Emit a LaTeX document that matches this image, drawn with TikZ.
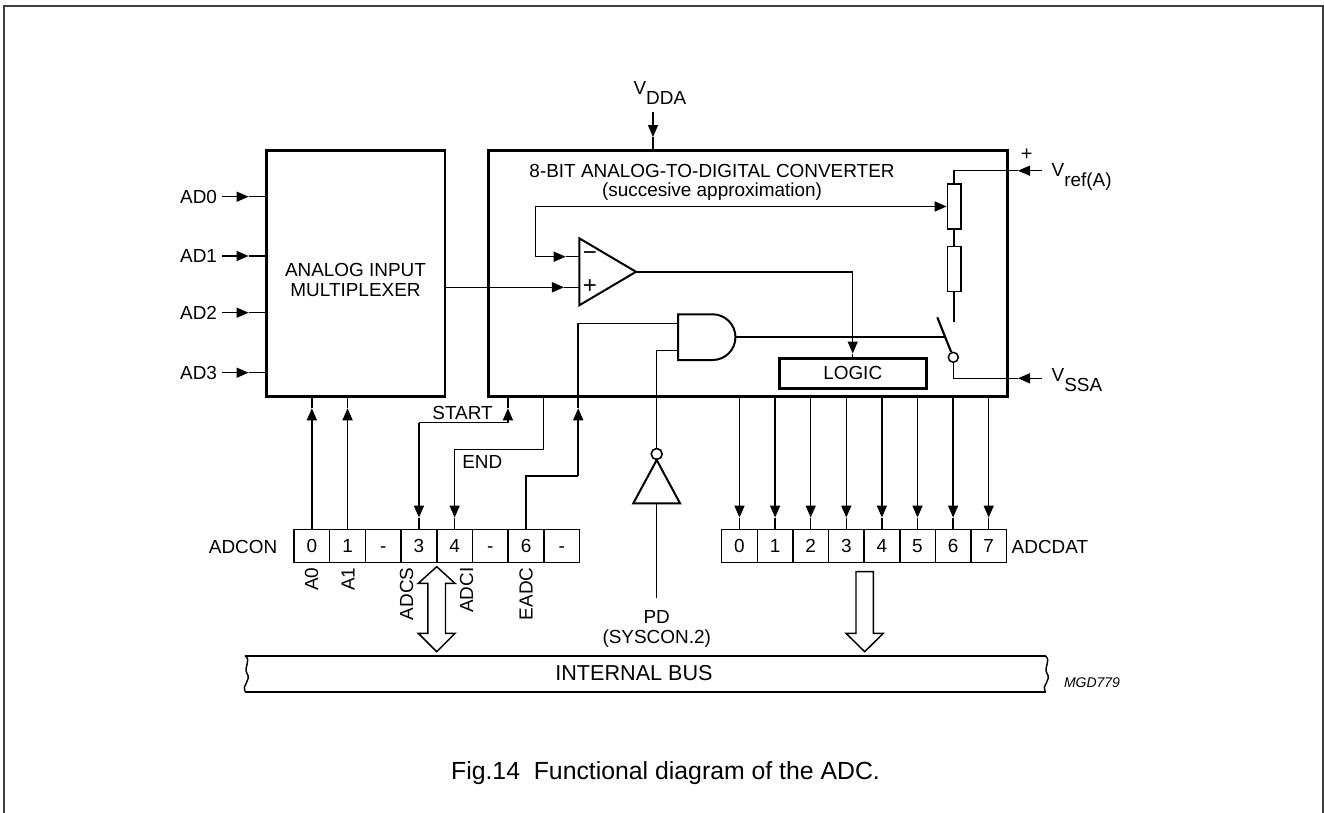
\documentclass[tikz,border=0pt]{standalone}
\usepackage{fontspec}
\setmainfont{Liberation Sans}
\usetikzlibrary{arrows.meta,calc}
\newcommand\sigline[3][8.25pt]{\draw[ar=#1] #2 -- #3; \draw ($#3!#1!#2$) -- #3;}
\newcommand\subl[2]{#1\raisebox{-7.5pt}{#2}}
\begin{document}
\begin{tikzpicture}[x=0.75pt,y=-0.75pt,
  font=\fontsize{14.2}{16}\selectfont, line width=1.1pt,
  lbl/.style={inner sep=0pt, outer sep=0pt},
  box/.style={draw, line width=2.2pt, inner sep=0pt},
  cell/.style={draw, line width=1.1pt, minimum width=26.8pt, minimum height=24.75pt, inner sep=0pt, text height=10.2pt, text depth=0pt},
  res/.style={draw, line width=1.1pt, minimum width=10.3pt, minimum height=33.75pt, inner sep=0pt},
  gate/.style={line width=1.5pt, line join=miter},
  ar/.style={-{Triangle[length=9pt,width=7.5pt]}, shorten >=#1},
  ar/.default=8.25pt,
  hollow/.style={draw, line width=1.1pt, fill=white}]
\useasboundingbox (0,0) rectangle (1324,813);
% frame
\draw[line width=1.5pt, black!75] (4,813) -- (4,6.5) -- (1322.5,6.5) -- (1322.5,813);

% main blocks
\node[box, minimum width=133.7pt, minimum height=184.65pt] (mux) at (355.85,273.6) {};
\node[lbl, align=center, font=\fontsize{14.2}{15}\selectfont] (muxt) at (355.5,280) {ANALOG INPUT\\MULTIPLEXER};
\node[box, minimum width=388.8pt, minimum height=184.65pt] (adc) at (748.1,273.6) {};
\node[lbl] (title) at (712,170.7) {8-BIT ANALOG-TO-DIGITAL CONVERTER};
\node[lbl] (subt) at (712,191.7) {(succesive approximation)};
\node[box, minimum width=110.5pt, minimum height=22.5pt] (logic) at (852.7,373.3) {LOGIC};

% analog inputs
\foreach \n/\y in {0/196.7,1/256,2/312.7,3/372.7}{
  \node[lbl, anchor=east] (lad\n) at (217,\y) {AD\n};
  \coordinate (ad\n) at (221.7,\y);
  \sigline[12.5pt]{(ad\n)}{(ad\n -| mux.west)}
}

% VDDA
\node[lbl, anchor=base west] (vdda) at (633.6,95) {\subl{V}{DDA}};
\coordinate (vddain) at (653,111.7);
\sigline[9pt]{(vddain)}{(vddain |- adc.north)}

% resistor chain
\node[res] (r1) at (954.2,206.5) {};
\node[res] (r2) at (954.2,269.2) {};
\draw (r1.south) -- (r2.north);
\coordinate (rbot) at (954.2,321.7);
\draw (r2.south) -- (rbot);
\coordinate (vrefin) at (1041.7,170.7);
\coordinate (vreftip) at (1018,170.7);
\draw (vreftip) -- (r1.north |- vrefin) -- (r1.north);
\draw[ar=0pt] (vrefin) -- (vreftip);
\node[lbl, font=\fontsize{15}{15}\selectfont] (vplus) at (1026.7,155) {+};
\node[lbl, anchor=base west] (vref) at (1051.7,176.5) {\subl{V}{ref(A)}};

% switch
\coordinate (swtop) at (937.3,317.3);
\node[circle, draw, line width=1.1pt, minimum size=7.5pt, inner sep=0pt] (swc) at (953.3,357.3) {};
\draw[line width=1.6pt] (swtop) -- (swc);
\coordinate (vssain) at (1041.7,378.3);
\coordinate (vssatip) at (1018,378.3);
\draw (swc.south) -- (swc.south |- vssain) -- (vssatip);
\draw[ar=0pt] (vssain) -- (vssatip);
\node[lbl, anchor=base west] (vssa) at (1051.7,381) {\subl{V}{SSA}};

% comparator
\coordinate (cmptl) at (579.3,238.3);
\coordinate (cmpbl) at (579.3,305.3);
\coordinate (cmpout) at (636,271.8);
\coordinate (cmpminus) at (579.3,256.7);
\coordinate (cmpplus) at (579.3,287.3);
\draw[gate] (cmptl) -- (cmpout) -- (cmpbl) -- cycle;
\node[lbl, font=\fontsize{18}{18}\selectfont] (mlab) at (590,256.5) {−};
\node[lbl, font=\fontsize{18}{18}\selectfont] (plab) at (590,286.5) {+};
\coordinate (tap) at (535.4,206.5);
\draw[ar=0pt] (tap) -- (r1.west);
\draw (tap) -- (tap |- cmpminus);
\sigline[10.2pt]{(tap |- cmpminus)}{(cmpminus)}
\sigline[11.5pt]{(mux.east |- cmpplus)}{(cmpplus)}
\draw (cmpout) -- (logic.north |- cmpout);
\sigline[2.5pt]{(logic.north |- cmpout)}{(logic.north)}

% AND gate
\coordinate (andtl) at (678.2,314.3);
\coordinate (andbl) at (678.2,360);
\coordinate (andout) at (735.45,337.15);
\coordinate (andin1) at (678.2,323.7);
\coordinate (andin2) at (678.2,350.7);
\draw[gate] (andtl) -- (712.6,314.3) arc[start angle=90, end angle=-90, radius=17.14pt] -- (andbl) -- cycle;
\coordinate (swmid) at (945.2,337.15);
\draw (andout) -- (swmid);

% inverter
\node[circle, draw, line width=1.2pt, minimum size=8.25pt, inner sep=0pt] (bub) at (656.7,454) {};
\coordinate (invapex) at (656.7,460);
\coordinate (invbl) at (633.3,503.3);
\coordinate (invbr) at (680,503.3);
\draw[gate] (invapex) -- (invbr) -- (invbl) -- cycle;
\draw (andin2) -| (bub.north);
\coordinate (pdtop) at (656.7,598.3);
\draw (invapex |- invbl) -- (pdtop);
\node[lbl] (pd) at (656.7,616.7) {PD};
\node[lbl] (sys) at (656.7,638.3) {(SYSCON.2)};

% ADCON register
\foreach \i/\t in {0/0,1/1,2/-,3/3,4/4,5/-,6/6,7/-}{
  \node[cell] (c\i) at ({294+17.85+35.7*\i},545.8) {\t};
}
\node[lbl, anchor=east] (adcon) at (277.3,547.3) {ADCON};
% ADCDAT register
\foreach \i in {0,...,7}{
  \node[cell] (d\i) at ({721.7+17.8+35.6*\i},545.8) {\i};
  \sigline{(d\i.north |- adc.south)}{(d\i.north)}
}
\node[lbl, anchor=west] (adcdat) at (1011.7,547.3) {ADCDAT};

% A0, A1
\coordinate (atip) at (0,408.3);
\foreach \i in {0,1}{
  \draw (c\i.north |- atip) -- (c\i.north |- mux.south);
  \draw[ar=0pt] (c\i.north) -- (c\i.north |- atip);
}
% START
\coordinate (s1) at (507.9,422.7);
\draw (s1 |- adc.south) -- (s1 |- atip);
\draw[ar=0pt] (s1) -- (s1 |- atip);
\draw (s1) -- (c3.north |- s1);
\sigline{(c3.north |- s1)}{(c3.north)}
\node[lbl, anchor=east] (startl) at (492.7,412.7) {START};
% END
\coordinate (n1) at (543.5,449.3);
\draw (n1 |- adc.south) -- (n1) -- (c4.north |- n1);
\sigline{(c4.north |- n1)}{(c4.north)}
\node[lbl, anchor=west] (endl) at (462.3,462.3) {END};
% EADC
\coordinate (e2) at (578.2,476);
\draw (c6.north) |- (e2);
\draw[ar=0pt] (e2) -- (e2 |- atip);
\draw (e2 |- atip) -- (e2 |- andin1) -- (andin1);

% bit names
\foreach \x/\t in {311.7/A0,348/A1,406.7/ADCS,466.7/ADCI,526/EADC}{
  \node[lbl, rotate=90, anchor=east] (n\t) at (\x,567.5) {\t};
}

% bus arrows
\draw[hollow] (436.7,566.7) -- (455,583.3) -- (445.5,583.3) -- (445.5,633.3) -- (455,633.3)
  -- (436.7,651.7) -- (418.3,633.3) -- (427.9,633.3) -- (427.9,583.3) -- (418.3,583.3) -- cycle;
\draw[hollow] (856,571.7) -- (873.3,571.7) -- (873.3,633.3) -- (883.3,633.3) -- (864.7,651.7)
  -- (846,633.3) -- (856,633.3) -- cycle;

% internal bus
\draw[line width=1.5pt] (245,655.5) -- (1046,655.5);
\draw[line width=1.5pt] (245,691.5) -- (1046,691.5);
\draw (245,655.5) .. controls (252,661) and (243,667) .. (247,673.5) .. controls (252,680) and (241,686) .. (245,691.5);
\draw (1045,655.5) .. controls (1052,661) and (1043,667) .. (1047,673.5) .. controls (1052,680) and (1041,686) .. (1045,691.5);
\node[lbl, font=\fontsize{16.2}{18}\selectfont] (bus) at (634,673) {INTERNAL BUS};
\node[lbl, anchor=west, font=\fontsize{10.5}{12}\selectfont\itshape] (mgd) at (1064,683) {MGD779};

% caption
\node[lbl, font=\fontsize{18.6}{20}\selectfont] (cap) at (665.5,773) {Fig.14\ \ Functional diagram of the ADC.};
\end{tikzpicture}
\end{document}
